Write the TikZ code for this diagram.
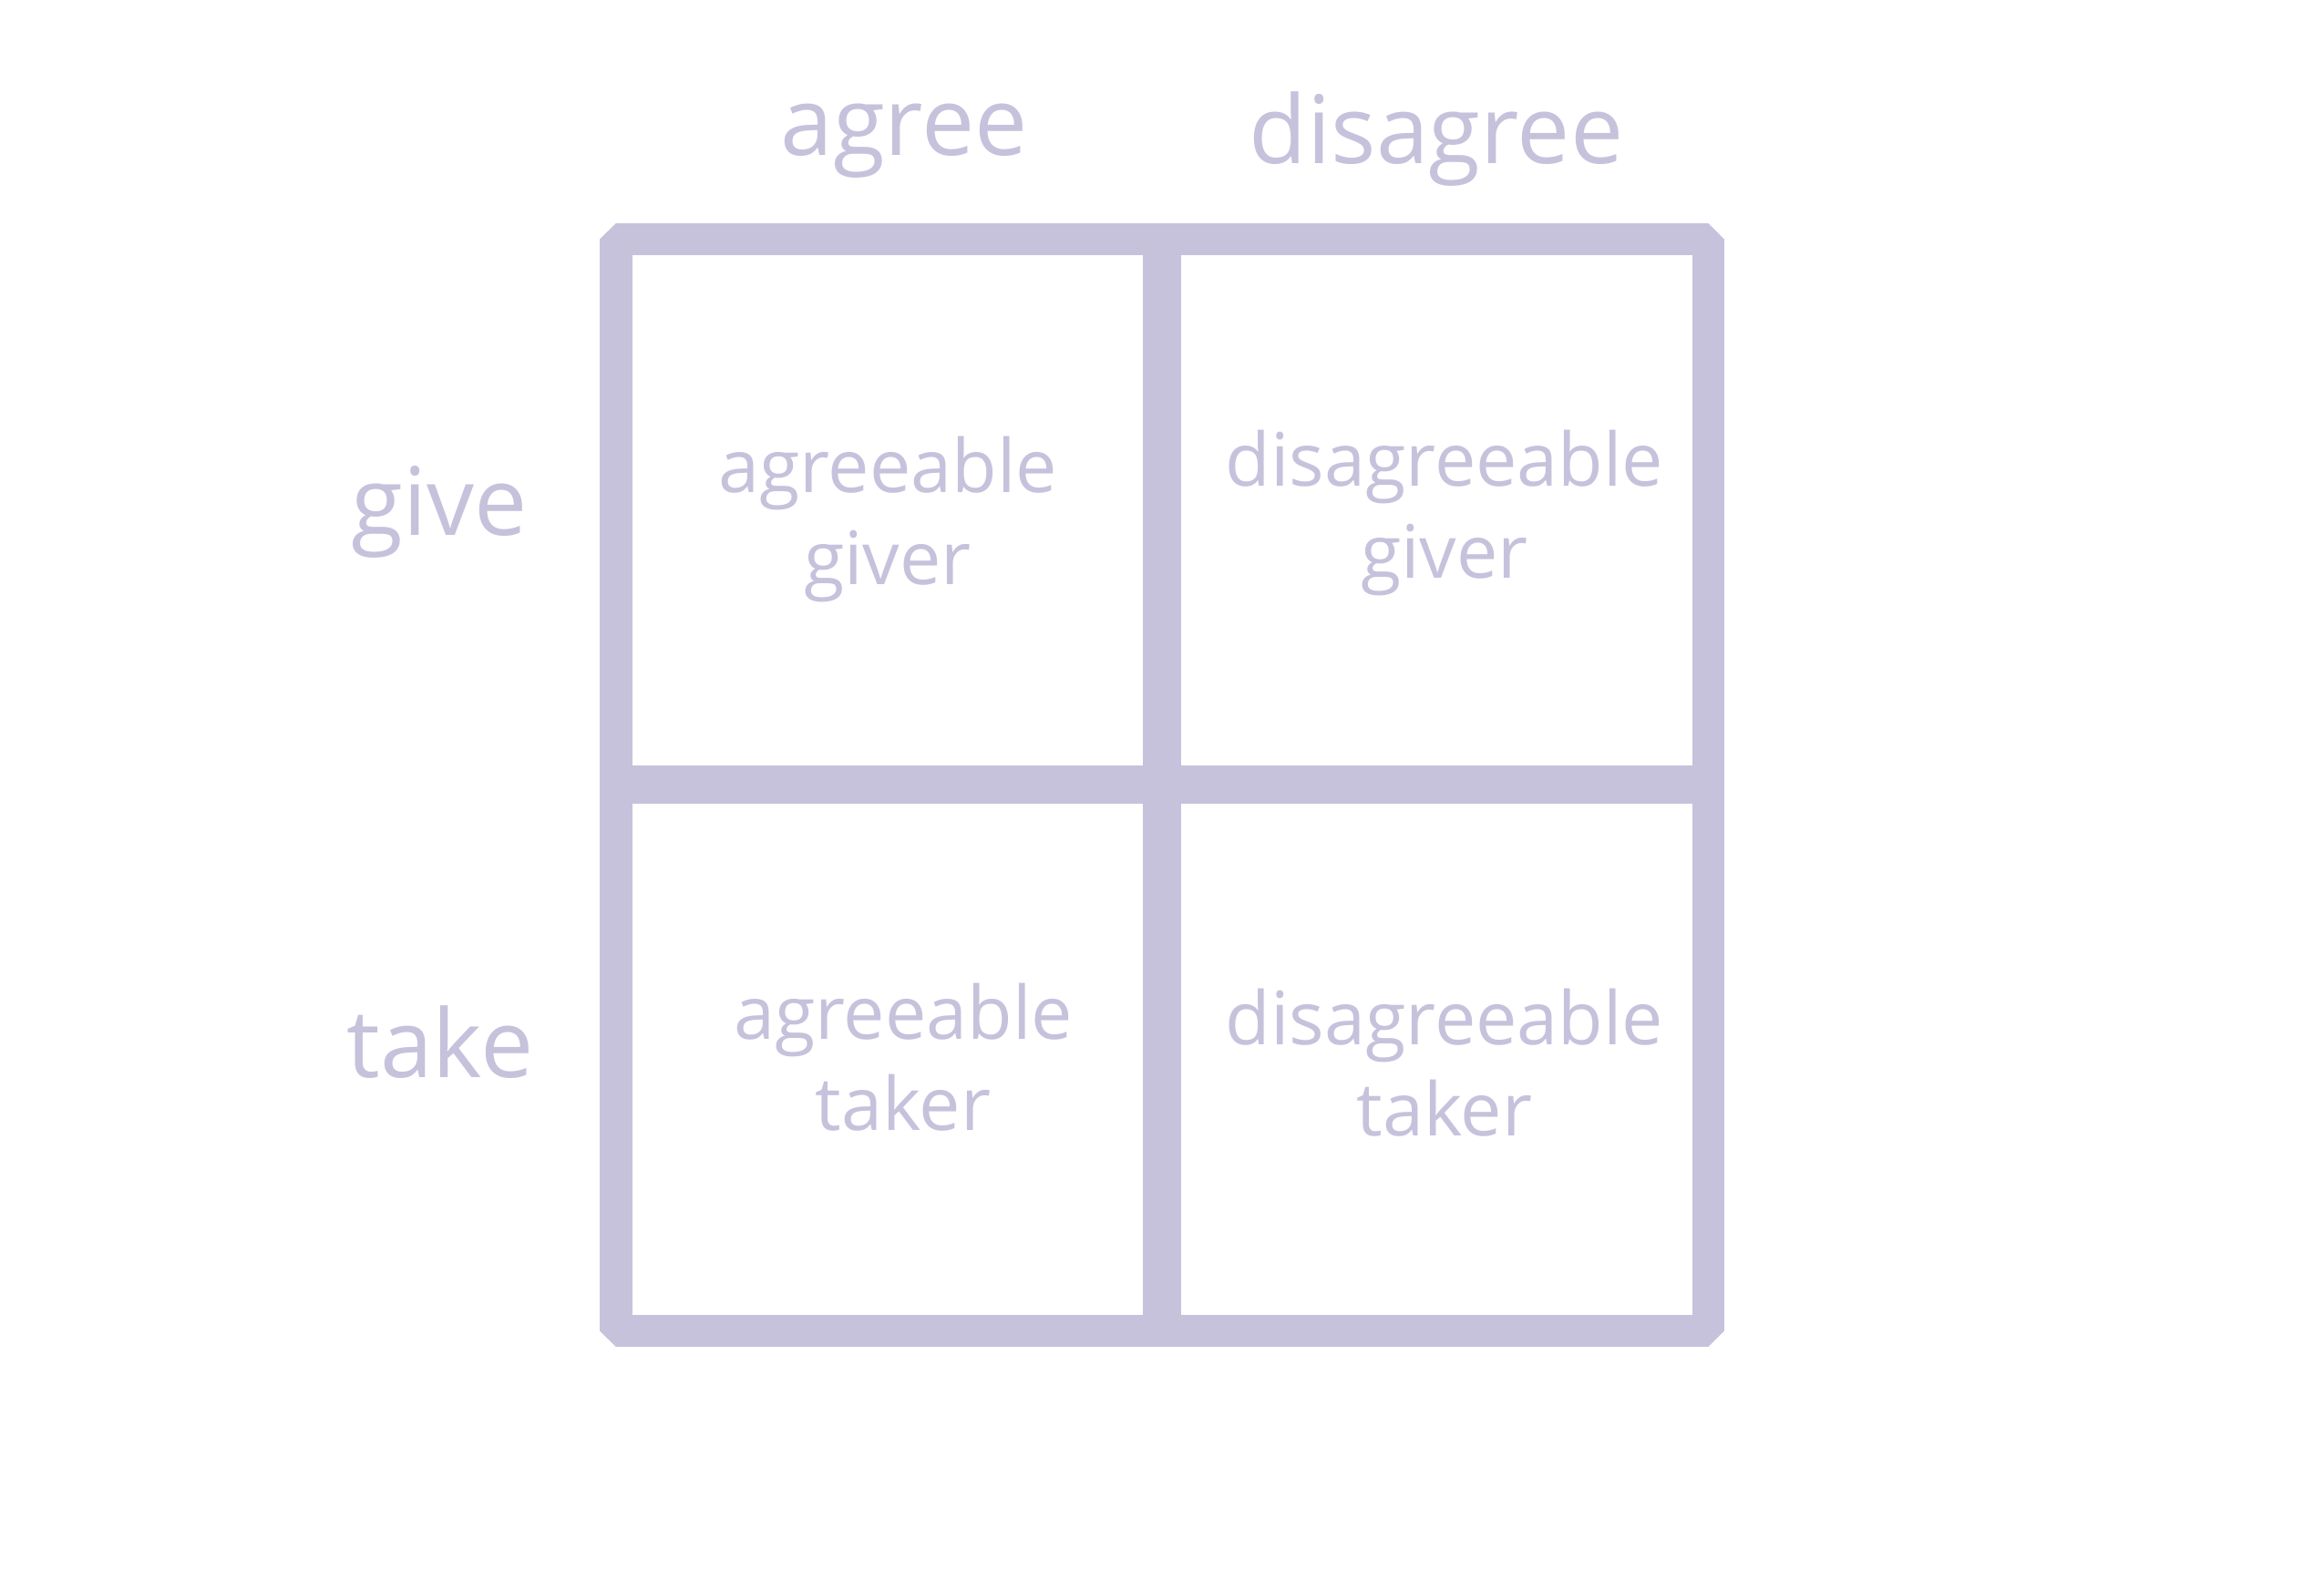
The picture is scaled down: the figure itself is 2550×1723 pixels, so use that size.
\documentclass[tikz,border=0pt]{standalone}
\usepackage{fontspec}
\setmainfont{Open Sans}
\usetikzlibrary{positioning}
\definecolor{lavender}{HTML}{C6C2DC}

\begin{document}
\begin{tikzpicture}[x=0.01cm, y=-0.01cm,
	gridline/.style={draw=lavender, line width=0.35cm, line join=bevel},
	midline/.style={draw=lavender, line width=0.42cm},
	head/.style={text=lavender, font=\fontsize{29.5}{36}\selectfont},
	celltext/.style={text=lavender, align=center, font=\fontsize{23}{28.5}\selectfont}]
	\useasboundingbox (0,0) rectangle (2550,1723);
	% corners of the grid
	\coordinate (nw) at (676,262);
	\coordinate (se) at (1874,1460);
	\coordinate (mid) at (1275,861);
	\coordinate (ntop) at (1275,262);
	\coordinate (nbot) at (1275,1460);
	\coordinate (wmid) at (676,861);
	\coordinate (emid) at (1874,861);
	% the grid itself
	\draw [gridline] (nw) rectangle (se);
	\draw [midline] (ntop) -- (nbot);
	\draw [midline] (wmid) -- (emid);
	% column and row labels
	\node [head] (agree) at (992,155) {agree};
	\node [head] (disagree) at (1576,153) {disagree};
	\node [head] (give) at (482,562) {give};
	\node [head] (take) at (483,1144) {take};
	% the four cells
	\node [celltext] (aggiver) at (974,570) {agreeable\\giver};
	\node [celltext] (disgiver) at (1585,563) {disagreeable\\giver};
	\node [celltext] (agtaker) at (991,1160) {agreeable\\taker};
	\node [celltext] (distaker) at (1585,1166) {disagreeable\\taker};
\end{tikzpicture}
\end{document}
